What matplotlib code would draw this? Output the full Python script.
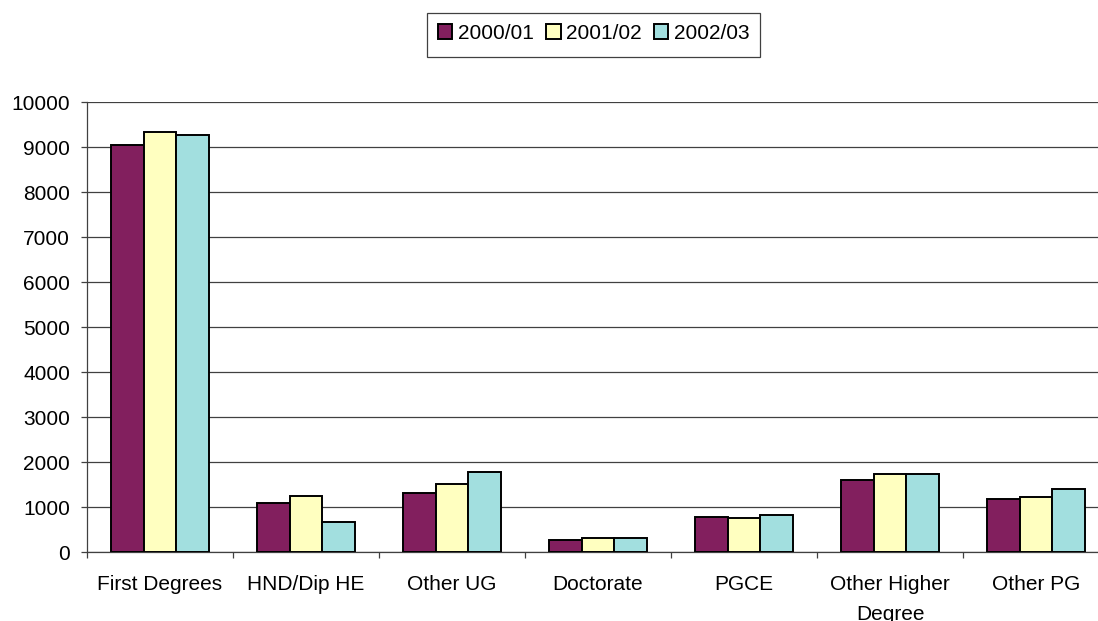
import matplotlib
matplotlib.use("Agg")
import matplotlib.pyplot as plt
from matplotlib.patches import Rectangle
import numpy as np

categories = ["First Degrees", "HND/Dip HE", "Other UG", "Doctorate", "PGCE",
              "Other Higher\nDegree", "Other PG"]
series_names = ["2000/01", "2001/02", "2002/03"]
values_2000 = [9040, 1090, 1310, 270, 783, 1615, 1180]
values_2001 = [9340, 1260, 1520, 316, 770, 1739, 1230]
values_2002 = [9265, 673, 1789, 316, 830, 1745, 1400]
colors = ["#821F5E", "#FFFFC0", "#A2DFDF"]
yticks = [0, 1000, 2000, 3000, 4000, 5000, 6000, 7000, 8000, 9000, 10000]

plt.rcParams['font.family'] = ['Liberation Sans', 'DejaVu Sans']

fig = plt.figure(figsize=(10.98, 6.21), dpi=100)
W, H = 1098, 621
left_px, right_px, top_px, bottom_px = 87, 1109, 102, 552.3
ax = fig.add_axes([left_px / W, (H - bottom_px) / H, (right_px - left_px) / W,
                   (bottom_px - top_px) / H])

x = np.arange(len(categories))
bw = 0.226
all_vals = [values_2000, values_2001, values_2002]
handles = []
for k, (vals, col, name) in enumerate(zip(all_vals, colors, series_names)):
    b = ax.bar(x + (k - 1) * bw, vals, width=bw, color=col, edgecolor='black',
               linewidth=1.4, label=name, zorder=3)
    handles.append(b)

ax.set_xlim(-0.5, len(categories) - 0.5)
ax.set_ylim(0, 10000)
ax.set_yticks(yticks)
ax.set_yticklabels([str(v) for v in yticks])
ax.yaxis.grid(True, color='#404040', linewidth=0.9, zorder=0)
ax.set_axisbelow(True)

ax.set_xticks(x)
ax.set_xticklabels(categories, fontsize=15, linespacing=1.7)
ax.set_xticks(np.arange(-0.5, len(categories) + 0.5, 1), minor=True)
ax.tick_params(axis='x', which='major', length=0, pad=16.5)
ax.tick_params(axis='x', which='minor', length=4.3, width=0.9, color='#404040')
ax.tick_params(axis='y', length=4.3, width=0.9, color='#404040', pad=8, labelsize=15)

for s in ['top', 'right']:
    ax.spines[s].set_visible(False)
ax.spines['left'].set_color('#404040')
ax.spines['bottom'].set_color('#404040')
ax.spines['left'].set_linewidth(0.9)
ax.spines['bottom'].set_linewidth(0.9)

leg = fig.legend(handles=handles, labels=series_names, loc='center',
                 bbox_to_anchor=(593.5 / W, 1 - 33.5 / H), ncol=3, fontsize=15,
                 frameon=False,
                 handlelength=0.7, handleheight=0.7, handletextpad=0.25,
                 columnspacing=0.6, borderpad=0.4)

# legend box (drawn in figure pixel coordinates)
lb_left, lb_right, lb_top, lb_bottom = 427, 760, 13.3, 57.3
fig.patches.append(Rectangle((lb_left / W, 1 - lb_bottom / H),
                             (lb_right - lb_left) / W, (lb_bottom - lb_top) / H,
                             transform=fig.transFigure, fill=False,
                             edgecolor='#404040', linewidth=0.9))

fig.savefig("out.png", dpi=100)
